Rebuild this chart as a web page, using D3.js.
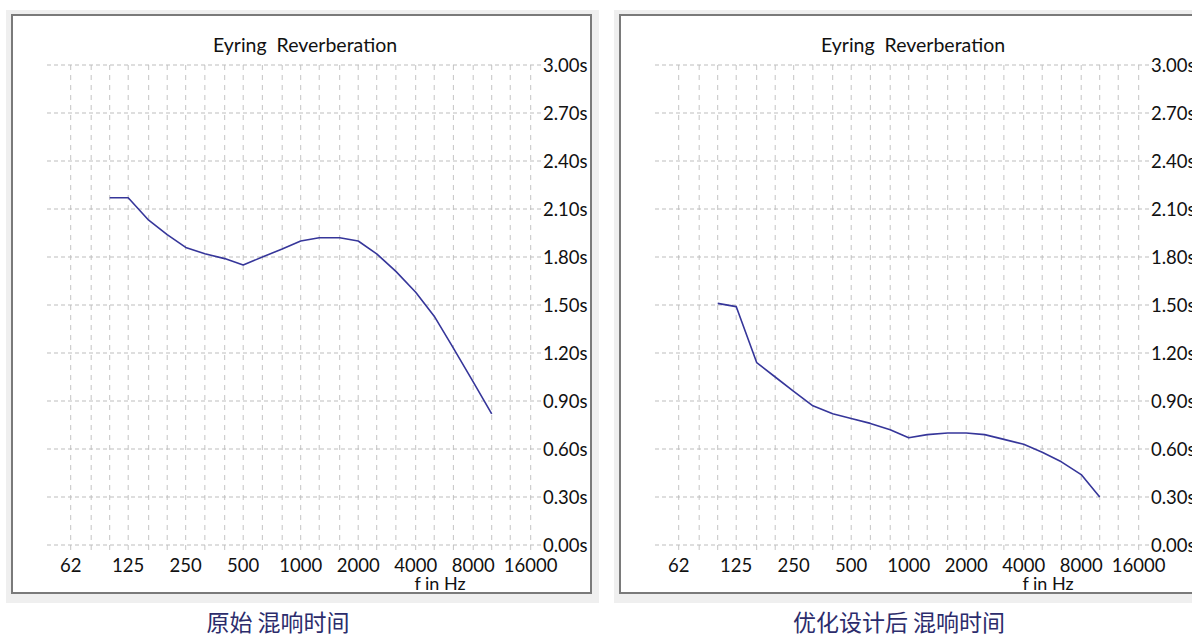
<!DOCTYPE html>
<html>
<head>
<meta charset="utf-8">
<script src="https://cdn.jsdelivr.net/npm/d3@7"></script>
<style>
  html, body { margin: 0; padding: 0; background: #ffffff; }
  svg { display: block; }
</style>
</head>
<body>
<svg id="chart" width="1192" height="639"></svg>
<script>
// ---- data ----
const bandFreqs = [100, 125, 160, 200, 250, 315, 400, 500, 630, 800, 1000, 1250, 1600, 2000, 2500, 3150, 4000, 5000, 6300, 8000, 10000];
const originalRT = [2.17, 2.17, 2.03, 1.94, 1.86, 1.82, 1.79, 1.75, 1.80, 1.85, 1.90, 1.92, 1.92, 1.90, 1.82, 1.71, 1.58, 1.43, 1.23, 1.02, 0.82];
const optimizedRT = [1.51, 1.49, 1.14, 1.05, 0.96, 0.87, 0.82, 0.79, 0.76, 0.72, 0.67, 0.69, 0.70, 0.70, 0.69, 0.66, 0.63, 0.58, 0.52, 0.44, 0.30];
const gridFreqs = [62.5, 80, 100, 125, 160, 200, 250, 315, 400, 500, 630, 800, 1000, 1250, 1600, 2000, 2500, 3150, 4000, 5000, 6300, 8000, 10000, 12500, 16000];
const xTickFreqs = [62.5, 125, 250, 500, 1000, 2000, 4000, 8000, 16000];
const xTickLabels = ["62", "125", "250", "500", "1000", "2000", "4000", "8000", "16000"];
const yTicks = [0, 0.3, 0.6, 0.9, 1.2, 1.5, 1.8, 2.1, 2.4, 2.7, 3.0];
const titleText = "Eyring  Reverberation";
const xAxisTitle = "f in Hz";
const captions = ["原始 混响时间", "优化设计后 混响时间"];

// ---- drawing ----
const svg = d3.select("#chart");
const FONT = "Lato, 'Open Sans', 'DejaVu Sans', sans-serif";

function drawPanel(offsetX, values, caption, captionX) {
  const g = svg.append("g").attr("transform", `translate(${offsetX},0)`);

  // outer light frame
  g.append("rect").attr("x", 6).attr("y", 10).attr("width", 593).attr("height", 593)
    .attr("fill", "#efefef");
  g.append("rect").attr("x", 12).attr("y", 15).attr("width", 579).attr("height", 578)
    .attr("fill", "#ffffff").attr("stroke", "#7a7a7a").attr("stroke-width", 2);

  const x = d3.scaleLog().domain([62.5, 16000]).range([70.7, 530.7]);
  const y = d3.scaleLinear().domain([0, 3]).range([545, 65]);

  // vertical grid
  g.append("g").selectAll("line").data(gridFreqs).join("line")
    .attr("x1", d => x(d)).attr("x2", d => x(d))
    .attr("y1", y(3)).attr("y2", y(0) + 9)
    .attr("stroke", "#c4c4c4").attr("stroke-width", 1)
    .attr("stroke-dasharray", "5,5");

  // horizontal grid
  g.append("g").selectAll("line").data(yTicks).join("line")
    .attr("x1", 47).attr("x2", 541)
    .attr("y1", d => y(d)).attr("y2", d => y(d))
    .attr("stroke", "#bdbdbd").attr("stroke-width", 1)
    .attr("stroke-dasharray", "4,3");

  // y labels
  g.append("g").selectAll("text").data(yTicks).join("text")
    .attr("x", 543).attr("y", d => y(d)).attr("dy", "0.36em")
    .attr("font-family", FONT).attr("font-size", 18.5).attr("fill", "#111")
    .text(d => d3.format(".2f")(d) + "s");

  // x labels
  g.append("g").selectAll("text").data(xTickFreqs).join("text")
    .attr("x", d => x(d)).attr("y", 572)
    .attr("text-anchor", "middle")
    .attr("font-family", FONT).attr("font-size", 18.5).attr("fill", "#111")
    .text((d, i) => xTickLabels[i]);

  g.append("text").attr("x", 440).attr("y", 590).attr("text-anchor", "middle")
    .attr("font-family", FONT).attr("font-size", 18).attr("fill", "#111")
    .text(xAxisTitle);

  // title
  g.append("text").attr("x", 305).attr("y", 52).attr("text-anchor", "middle")
    .attr("font-family", FONT).attr("font-size", 19.5).attr("fill", "#111")
    .attr("xml:space", "preserve").style("white-space", "pre")
    .text(titleText);

  // curve
  const line = d3.line().x((d, i) => x(bandFreqs[i])).y(d => y(d));
  g.append("path").datum(values)
    .attr("d", line).attr("fill", "none")
    .attr("stroke", "#36369a").attr("stroke-width", 1.6)
    .attr("stroke-linejoin", "round");

  // caption
  g.append("text").attr("x", captionX).attr("y", 631)
    .attr("text-anchor", "middle")
    .attr("font-family", "'Noto Sans CJK SC', sans-serif").attr("font-size", 23)
    .attr("fill", "#2c2c6c")
    .attr("xml:space", "preserve").style("white-space", "pre")
    .text(caption);
}

drawPanel(0, originalRT, captions[0], 278);
drawPanel(608, optimizedRT, captions[1], 291);
</script>
</body>
</html>
